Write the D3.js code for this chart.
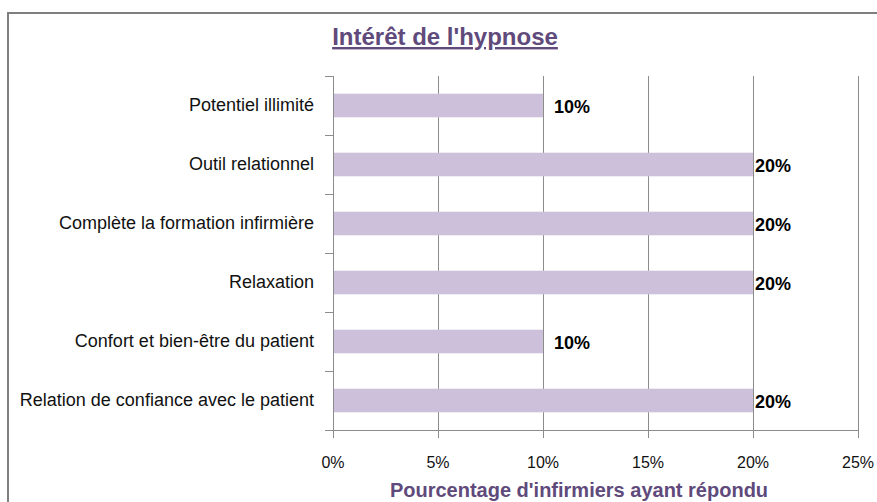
<!DOCTYPE html>
<html>
<head>
<meta charset="utf-8">
<script src="https://cdn.jsdelivr.net/npm/d3@7"></script>
<style>
  body { margin: 0; background: #fff; }
</style>
</head>
<body>
<div id="chart"></div>
<script>
// data
const categories = [
    "Potentiel illimité",
    "Outil relationnel",
    "Complète la formation infirmière",
    "Relaxation",
    "Confort et bien-être du patient",
    "Relation de confiance avec le patient"
];
const values = [0.10, 0.20, 0.20, 0.20, 0.10, 0.20];
const xTicks = [0, 0.05, 0.10, 0.15, 0.20, 0.25];

const width = 877, height = 502;
const plotLeft = 333, plotRight = 858, plotTop = 76, plotBottom = 430;

const svg = d3.select("#chart").append("svg")
    .attr("width", width)
    .attr("height", height);

// outer chart frame (cut off on the right and bottom)
svg.append("rect")
    .attr("x", 8).attr("y", 13)
    .attr("width", 900).attr("height", 520)
    .attr("fill", "none")
    .attr("stroke", "#7f7f7f")
    .attr("stroke-width", 2);

const x = d3.scaleLinear().domain([0, 0.25]).range([plotLeft, plotRight]);
const y = d3.scaleBand().domain(categories).range([plotTop, plotBottom]).paddingInner(0.6).paddingOuter(0.3);

// vertical gridlines
svg.append("g")
    .selectAll("line")
    .data(xTicks.slice(1))
    .join("line")
    .attr("x1", d => Math.round(x(d)) + 0.5)
    .attr("x2", d => Math.round(x(d)) + 0.5)
    .attr("y1", plotTop)
    .attr("y2", plotBottom)
    .attr("stroke", "#8c8c8c");

// bars
svg.append("g")
    .selectAll("rect")
    .data(values)
    .join("rect")
    .attr("x", x(0))
    .attr("y", (d, i) => y(categories[i]))
    .attr("width", d => x(d) - x(0))
    .attr("height", y.bandwidth())
    .attr("fill", "#ccc0da");

// value labels
svg.append("g")
    .selectAll("text")
    .data(values)
    .join("text")
    .attr("x", d => x(d) + (d >= 0.2 ? 2 : 11))
    .attr("y", (d, i) => y(categories[i]) + y.bandwidth() / 2 + 7)
    .attr("font-family", "Liberation Sans, Arial, sans-serif")
    .attr("font-weight", "bold")
    .attr("font-size", 18)
    .attr("fill", "#000")
    .text(d => Math.round(d * 100) + "%");

// y axis
const step = (plotBottom - plotTop) / categories.length;
const yAxis = svg.append("g");
yAxis.append("line")
    .attr("x1", plotLeft + 0.5).attr("x2", plotLeft + 0.5)
    .attr("y1", plotTop).attr("y2", plotBottom)
    .attr("stroke", "#8c8c8c");
yAxis.selectAll("line.tick")
    .data(d3.range(categories.length + 1))
    .join("line")
    .attr("class", "tick")
    .attr("x1", plotLeft - 8).attr("x2", plotLeft)
    .attr("y1", i => Math.round(plotTop + i * step) + 0.5)
    .attr("y2", i => Math.round(plotTop + i * step) + 0.5)
    .attr("stroke", "#8c8c8c");
yAxis.selectAll("text")
    .data(categories)
    .join("text")
    .attr("x", 314)
    .attr("y", d => y(d) + y.bandwidth() / 2 + 5)
    .attr("text-anchor", "end")
    .attr("font-family", "Liberation Sans, Arial, sans-serif")
    .attr("font-size", 18)
    .attr("fill", "#111")
    .text(d => d);

// x axis
const xAxis = svg.append("g");
xAxis.append("line")
    .attr("x1", plotLeft - 8).attr("x2", plotRight)
    .attr("y1", plotBottom + 0.5).attr("y2", plotBottom + 0.5)
    .attr("stroke", "#8c8c8c");
xAxis.selectAll("line.tick")
    .data(xTicks)
    .join("line")
    .attr("class", "tick")
    .attr("x1", d => Math.round(x(d)) + 0.5)
    .attr("x2", d => Math.round(x(d)) + 0.5)
    .attr("y1", plotBottom).attr("y2", plotBottom + 8)
    .attr("stroke", "#8c8c8c");
xAxis.selectAll("text")
    .data(xTicks)
    .join("text")
    .attr("x", d => x(d))
    .attr("y", plotBottom + 38)
    .attr("text-anchor", "middle")
    .attr("font-family", "Liberation Sans, Arial, sans-serif")
    .attr("font-size", 16)
    .attr("fill", "#111")
    .text(d => d3.format(".0%")(d));

// axis title
svg.append("text")
    .attr("x", 579)
    .attr("y", 497)
    .attr("text-anchor", "middle")
    .attr("font-family", "Liberation Sans, Arial, sans-serif")
    .attr("font-weight", "bold")
    .attr("font-size", 20)
    .attr("fill", "#604a7b")
    .text("Pourcentage d'infirmiers ayant répondu");

// title
svg.append("text")
    .attr("x", 445)
    .attr("y", 45)
    .attr("text-anchor", "middle")
    .attr("font-family", "Liberation Sans, Arial, sans-serif")
    .attr("font-weight", "bold")
    .attr("font-size", 24)
    .attr("fill", "#604a7b")
    .attr("text-decoration", "underline")
    .text("Intérêt de l'hypnose");
</script>
</body>
</html>
